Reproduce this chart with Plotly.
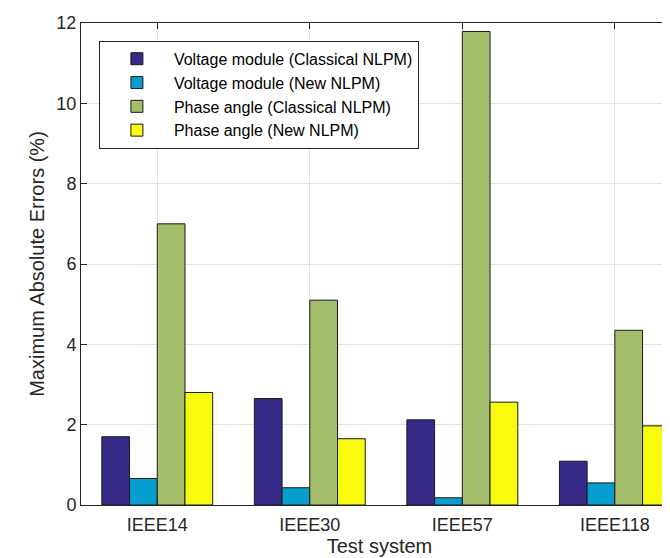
import plotly.graph_objects as go

categories = ["IEEE14", "IEEE30", "IEEE57", "IEEE118"]
vm_classical = [1.70, 2.65, 2.12, 1.09]
vm_new = [0.66, 0.43, 0.18, 0.55]
pa_classical = [7.00, 5.10, 11.79, 4.35]
pa_new = [2.80, 1.65, 2.56, 1.97]

series_names = [
    "Voltage module (Classical NLPM)",
    "Voltage module (New NLPM)",
    "Phase angle (Classical NLPM)",
    "Phase angle (New NLPM)",
]
series_values = [vm_classical, vm_new, pa_classical, pa_new]
colors = ["#352a87", "#079dcf", "#a5be6b", "#f9fb0e"]

y_ticks = [0, 2, 4, 6, 8, 10, 12]

fig = go.Figure()
for name, vals, col in zip(series_names, series_values, colors):
    fig.add_trace(go.Bar(
        x=categories, y=vals, name=name,
        marker=dict(color=col, line=dict(color="#1a1a1a", width=1)),
    ))

FAM = "Liberation Sans, Arial, sans-serif"
tick_font = dict(family=FAM, size=18, color="#262626")
title_font = dict(family=FAM, size=20, color="#262626")
fig.update_layout(
    width=670, height=558,
    margin=dict(l=73, r=0, t=15, b=61, autoexpand=False),
    paper_bgcolor="white", plot_bgcolor="white",
    barmode="group", bargap=0.273, bargroupgap=0,
    font=tick_font,
    showlegend=True,
    legend=dict(
        x=0.030, y=0.963, xanchor="left", yanchor="top",
        bgcolor="white", bordercolor="#262626", borderwidth=1,
        font=dict(family=FAM, size=16, color="#000000"),
        tracegroupgap=0, itemwidth=64,
    ),
    xaxis=dict(
        type="category", range=[-0.5, 3.414], automargin=False,
        showline=True, linecolor="#262626", linewidth=1, mirror="ticks",
        ticks="inside", ticklen=6, tickcolor="#262626",
        ticklabelstandoff=3,
        showgrid=True, gridcolor="#e3e3e3", gridwidth=1,
        title=dict(text="Test system", font=title_font, standoff=5),
        tickfont=tick_font,
    ),
    yaxis=dict(
        range=[0, 12], tickvals=y_ticks, ticktext=[str(t) for t in y_ticks],
        automargin=False,
        showline=True, linecolor="#262626", linewidth=1,
        ticks="inside", ticklen=6, tickcolor="#262626",
        showgrid=True, gridcolor="#e3e3e3", gridwidth=1, zeroline=False,
        title=dict(text="Maximum Absolute Errors (%)", font=title_font, standoff=6),
        tickfont=tick_font,
    ),
)

fig.write_html("out.html")
